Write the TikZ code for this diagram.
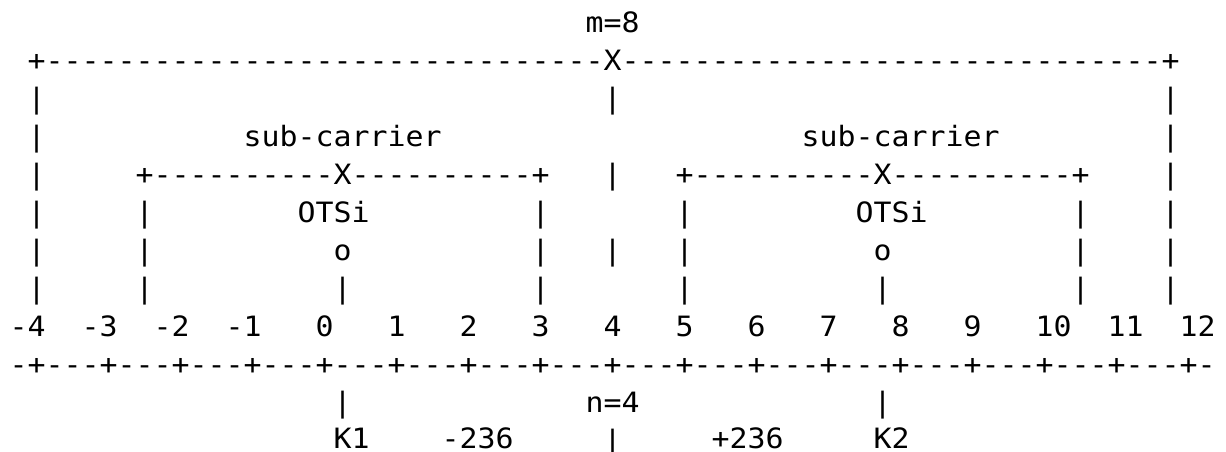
\documentclass[tikz,border=0pt]{standalone}
\usepackage{fontspec}
\setmonofont{DejaVu Sans Mono}[FakeStretch=1.0678]
\begin{document}
\begin{tikzpicture}[x=18pt,y=-38pt,
  txt/.style={anchor=base west,inner sep=0pt,outer sep=0pt,
    font=\ttfamily\fontsize{28pt}{36pt}\selectfont}]
\useasboundingbox[fill=white] (-9.7pt,32pt) rectangle (1216.3pt,-419pt);
% row 0
\node[txt] (m8) at (32,0) {m=8};
% row 1: outer box top
\node[txt] (outertop) at (1,1) {+-------------------------------X------------------------------+};
% vertical bars
\foreach \c/\r in {1/2,33/2,64/2,
                   1/3,64/3,
                   1/4,33/4,64/4,
                   1/5,7/5,29/5,37/5,59/5,64/5,
                   1/6,7/6,29/6,33/6,37/6,59/6,64/6,
                   1/7,7/7,18/7,29/7,37/7,48/7,59/7,64/7,
                   18/10,48/10,33/11}
  \node[txt] (bar-\c-\r) at (\c,\r) {|};
% row 3
\node[txt] (subL) at (13,3) {sub-carrier};
\node[txt] (subR) at (44,3) {sub-carrier};
% row 4
\node[txt] (boxL) at (7,4) {+----------X----------+};
\node[txt] (boxR) at (37,4) {+----------X----------+};
% row 5
\node[txt] (otsiL) at (16,5) {OTSi};
\node[txt] (otsiR) at (47,5) {OTSi};
% row 6
\node[txt] (oL) at (18,6) {o};
\node[txt] (oR) at (48,6) {o};
% row 8: numbers
\foreach \c/\t in {0/-4,4/-3,8/-2,12/-1,17/0,21/1,25/2,29/3,33/4,37/5,41/6,45/7,49/8,53/9,57/10,61/11,65/12}
  \node[txt] (num-\c) at (\c,8) {\t};
% row 9: axis
\node[txt] (axis) at (0,9) {-+---+---+---+---+---+---+---+---+---+---+---+---+---+---+---+---+-};
% row 10
\node[txt] (n4) at (32,10) {n=4};
% row 11
\node[txt] (K1) at (18,10.95) {K1};
\node[txt] (m236) at (24,10.95) {-236};
\node[txt] (p236) at (39,10.95) {+236};
\node[txt] (K2) at (48,10.95) {K2};
\end{tikzpicture}
\end{document}
